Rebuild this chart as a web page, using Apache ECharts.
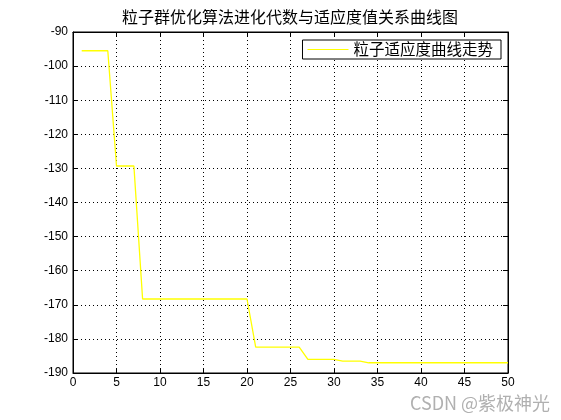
<!DOCTYPE html>
<html>
<head>
<meta charset="utf-8">
<script src="https://cdn.jsdelivr.net/npm/echarts@6/dist/echarts.min.js"></script>
<style>html,body{margin:0;padding:0;background:#fff;}#c{width:561px;height:420px;}</style>
</head>
<body>
<div id="c"></div>
<script>
var titleText = '粒子群优化算法进化代数与适应度值关系曲线图';
var seriesName = '粒子适应度曲线走势';
var watermark = 'CSDN @紫极神光';
var generations = [1,2,3,4,5,6,7,8,9,10,11,12,13,14,15,16,17,18,19,20,21,22,23,24,25,26,27,28,29,30,31,32,33,34,35,36,37,38,39,40,41,42,43,44,45,46,47,48,49,50];
var fitness = [
  -95.5,-95.5,-95.5,-95.5,
  -129.3,-129.3,-129.3,
  -168.3,-168.3,-168.3,-168.3,-168.3,-168.3,-168.3,-168.3,-168.3,-168.3,-168.3,-168.3,-168.3,
  -182.4,-182.4,-182.4,-182.4,-182.4,-182.4,
  -186.0,-186.0,-186.0,-186.0,
  -186.5,-186.5,-186.5,
  -187.0,-187.0,-187.0,-187.0,-187.0,-187.0,-187.0,-187.0,-187.0,-187.0,-187.0,-187.0,-187.0,-187.0,-187.0,-187.0,-187.0
];
var xMin = 0, xMax = 50, xStep = 5;
var yMin = -190, yMax = -90, yStep = 10;

var chart = echarts.init(document.getElementById('c'), null, {renderer: 'canvas'});
var numFont = '"Liberation Sans", Arial, sans-serif';
var cjkFont = '"Noto Sans CJK SC", sans-serif';
var gridLine = {show: true, lineStyle: {color: '#000', type: [1, 3], width: 1}};
var option = {
  backgroundColor: '#fff',
  animation: false,
  grid: {left: 73, right: 53, top: 32, bottom: 47, show: true, borderColor: '#000', borderWidth: 1},
  graphic: [
    {type: 'text', x: 290, y: 17, style: {text: titleText, fill: '#000', font: '16px ' + cjkFont, textAlign: 'center', textVerticalAlign: 'middle'}},
    {type: 'text', x: 480, y: 403, style: {text: watermark, fill: '#b0b0b0', font: '18px ' + cjkFont, textAlign: 'center', textVerticalAlign: 'middle'}}
  ],
  legend: {
    data: [{name: seriesName, icon: 'rect'}],
    right: 60, top: 40,
    itemWidth: 41, itemHeight: 1.2,
    itemGap: 6,
    padding: [1, 8, 1, 5],
    backgroundColor: '#fff',
    borderColor: '#000', borderWidth: 1,
    borderRadius: 0,
    textStyle: {color: '#000', fontSize: 15.5, fontFamily: cjkFont, lineHeight: 17, padding: [0, 0, 0, 0]}
  },
  xAxis: [
    {type: 'value', min: xMin, max: xMax, interval: xStep, position: 'bottom',
     axisLine: {show: true, onZero: false, lineStyle: {color: '#000'}},
     axisTick: {show: true, inside: true, length: 5, lineStyle: {color: '#000'}},
     axisLabel: {color: '#000', fontSize: 12, fontFamily: numFont, margin: 4},
     splitLine: gridLine},
    {type: 'value', min: xMin, max: xMax, interval: xStep, position: 'top',
     axisLine: {show: true, onZero: false, lineStyle: {color: '#000'}},
     axisTick: {show: true, inside: true, length: 5, lineStyle: {color: '#000'}},
     axisLabel: {show: false}, splitLine: {show: false}}
  ],
  yAxis: [
    {type: 'value', min: yMin, max: yMax, interval: yStep, position: 'left',
     axisLine: {show: true, onZero: false, lineStyle: {color: '#000'}},
     axisTick: {show: true, inside: true, length: 5, lineStyle: {color: '#000'}},
     axisLabel: {color: '#000', fontSize: 12, fontFamily: numFont, margin: 5},
     splitLine: gridLine},
    {type: 'value', min: yMin, max: yMax, interval: yStep, position: 'right',
     axisLine: {show: true, onZero: false, lineStyle: {color: '#000'}},
     axisTick: {show: true, inside: true, length: 5, lineStyle: {color: '#000'}},
     axisLabel: {show: false}, splitLine: {show: false}}
  ],
  series: [{
    name: seriesName, type: 'line', xAxisIndex: 0, yAxisIndex: 0,
    data: generations.map(function (g, i) { return [g, fitness[i]]; }),
    showSymbol: false, symbol: 'none',
    itemStyle: {color: '#ffff00'},
    lineStyle: {color: '#ffff00', width: 1.3}
  }]
};
chart.setOption(option);
</script>
</body>
</html>
